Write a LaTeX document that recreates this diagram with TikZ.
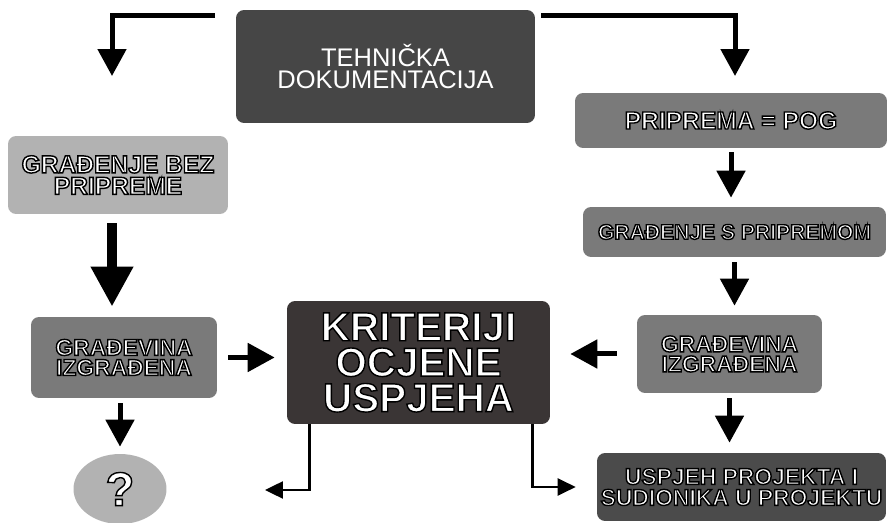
\documentclass[tikz,border=0pt]{standalone}
\usepackage{fontspec}
\setmainfont{Liberation Sans}
\usepackage{xcolor}
\usepackage{tikz}
\usetikzlibrary{arrows.meta,shapes.geometric,calc}
\newcommand{\outl}[1]{\special{pdf:code q 1 1 1 rg 0 0 0 RG 0.8 w 2 Tr}{\bfseries #1}\special{pdf:code Q}}
\definecolor{techgray}{HTML}{464646}
\definecolor{midgray}{HTML}{7A7A7A}
\definecolor{lightgray}{HTML}{B2B2B2}
\definecolor{critgray}{HTML}{3A3535}
\definecolor{succgray}{HTML}{4B4B4B}
\tikzset{
  box/.style={rectangle,rounded corners=0.16cm,inner sep=0pt,align=center,text=white},
  arr/.style={-{Triangle[width=0.56cm,length=0.54cm]},line width=0.1cm},
  heavyarr/.style={-{Triangle[width=0.8cm,length=0.8cm]},line width=0.2cm},
  thinarr/.style={-{Triangle[width=0.34cm,length=0.36cm]},line width=0.05cm}
}

\begin{document}
\begin{tikzpicture}[x=0.02cm,y=-0.02cm]
\useasboundingbox (0,0) rectangle (887,523);
\node[box,fill=techgray,minimum width=5.98cm,minimum height=2.26cm,font=\fontsize{14.5}{12.6}\selectfont] (tech) at (385.5,66.5) {TEHNIČKA\\DOKUMENTACIJA};
\node[box,fill=midgray,minimum width=6.24cm,minimum height=1.1cm,font=\fontsize{14}{14}\selectfont] (prip) at (731,120.5) {\outl{PRIPREMA = POG}};
\node[box,fill=midgray,minimum width=6.06cm,minimum height=1cm,font=\fontsize{12}{12}\selectfont] (gradS) at (734.5,232) {\outl{GRAĐENJE S PRIPREMOM}};
\node[box,fill=midgray,minimum width=3.7cm,minimum height=1.56cm,font=\fontsize{13}{11.4}\selectfont] (gradR) at (729.5,354) {\outl{GRAĐEVINA}\\\outl{IZGRAĐENA}};
\node[box,fill=succgray,minimum width=5.78cm,minimum height=1.36cm,font=\fontsize{13}{11.9}\selectfont] (usp) at (741.5,487) {\outl{USPJEH PROJEKTA I}\\\outl{SUDIONIKA U PROJEKTU}};
\node[box,fill=lightgray,minimum width=4.4cm,minimum height=1.56cm,font=\fontsize{14}{12.2}\selectfont] (bez) at (118,175) {\outl{GRAĐENJE BEZ}\\\outl{PRIPREME}};
\node[box,fill=midgray,minimum width=3.72cm,minimum height=1.62cm,font=\fontsize{13}{11.4}\selectfont] (gradL) at (124,357.5) {\outl{GRAĐEVINA}\\\outl{IZGRAĐENA}};
\node[box,fill=critgray,minimum width=5.26cm,minimum height=2.46cm,font=\fontsize{23}{20.2}\selectfont] (krit) at (418.5,362.5) {\outl{KRITERIJI}\\\outl{OCJENE}\\\outl{USPJEHA}};
\node[ellipse,fill=lightgray,inner sep=0pt,minimum width=1.86cm,minimum height=1.4cm,text=white,font=\fontsize{27}{27}\selectfont] (q) at (120,489) {\outl{?}};
\coordinate (tl) at (215,16);
\coordinate (lt) at (112,76);
\coordinate (tr) at (541,16);
\coordinate (rt) at (735,76);
\coordinate (ql) at (265,490);
\coordinate (bezS) at ($(bez.south)+(-6,0)$);
\coordinate (gradLS) at ($(gradL.south)+(-4,0)$);
\coordinate (kritL) at ($(krit.south west)+(23,0)$);
\coordinate (kritR) at ($(krit.south east)+(-18,0)$);
\draw[arr] (tl) -| (lt);
\draw[arr] (tr) -| (rt);
\draw[arr,shorten <=0.08cm,shorten >=0.18cm] (prip.south) -- (prip.south |- gradS.north);
\draw[arr,shorten <=0.1cm,shorten >=0.18cm] (gradS.south) -- (gradS.south |- gradR.north);
\draw[arr,shorten <=0.1cm,shorten >=0.2cm] (gradR.south) -- (gradR.south |- usp.north);
\draw[arr,shorten <=0.4cm,shorten >=0.4cm] (gradR.west) -- (krit.east |- gradR.west);
\draw[arr,shorten <=0.22cm,shorten >=0.24cm] (gradL.east) -- (krit.west |- gradL.east);
\draw[heavyarr,shorten <=0.18cm,shorten >=0.2cm] (bezS) -- (bezS |- gradL.north);
\draw[arr,shorten <=0.1cm,shorten >=0.14cm] (gradLS) -- (gradLS |- q.north);
\draw[thinarr] (kritL) |- (ql);
\draw[thinarr,shorten >=0.42cm] (kritR) |- (usp.west);
\end{tikzpicture}
\end{document}
